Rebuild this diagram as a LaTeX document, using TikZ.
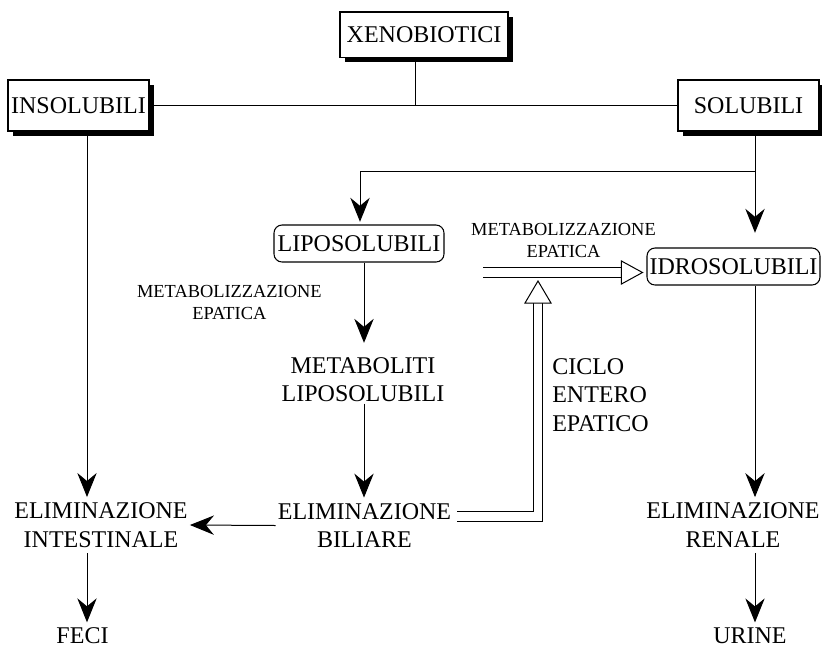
\documentclass[tikz,border=0pt]{standalone}
\usepackage{fontspec}
\setmainfont{Liberation Serif}
\usetikzlibrary{arrows.meta,shadows,calc}
\begin{document}
\begin{tikzpicture}[x=0.75pt,y=-0.75pt,
  big/.style={font=\fontsize{18}{21.5}\selectfont},
  small/.style={font=\fontsize{13.8}{16.2}\selectfont, align=center, inner sep=0pt},
  sbox/.style={draw, line width=0.8pt, fill=white, big, inner sep=0pt,
    drop shadow={shadow xshift=3.75pt, shadow yshift=-3.75pt, fill=black, opacity=1}},
  rbox/.style={draw, line width=0.8pt, rounded corners=6pt, big, inner sep=0pt, minimum height=27.75pt},
  txt/.style={big, align=center, inner xsep=1.5pt, inner ysep=4pt},
  ln/.style={line width=0.75pt},
  arr/.style={ln, -{Stealth[length=18pt,width=14.5pt,inset=6pt]}},
  dbl/.style={line width=0.75pt, double=white, double distance=6.5pt},
  hollow/.style={line width=0.75pt, fill=white, line join=miter}
]
\useasboundingbox (0,0) rectangle (822,647);
% boxes
\node[sbox, minimum width=126pt, minimum height=34.1pt] (xeno) at (424,34.7) {XENOBIOTICI};
\node[sbox, minimum width=105.75pt, minimum height=38.25pt] (insol) at (78.5,105.5) {INSOLUBILI};
\node[sbox, minimum width=105.75pt, minimum height=38.25pt] (sol) at (748.5,105.5) {SOLUBILI};
\node[rbox, minimum width=127.5pt] (lipo) at (359,243.5) {LIPOSOLUBILI};
\node[rbox, minimum width=129.75pt] (idro) at (733.5,266.5) {IDROSOLUBILI};
% text nodes
\node[txt, inner ysep=1pt] (metab) at (363,379.5) {METABOLITI\\LIPOSOLUBILI};
\node[txt] (elbil) at (364.5,525.5) {ELIMINAZIONE\\BILIARE};
\node[txt] (elint) at (101,525) {ELIMINAZIONE\\INTESTINALE};
\node[txt] (elren) at (733,525) {ELIMINAZIONE\\RENALE};
\node[txt] (feci) at (82.5,636) {FECI};
\node[txt] (urine) at (750,636) {URINE};
\node[big, align=left, anchor=west, inner sep=0pt] (ciclo) at (552,395) {CICLO\\ENTERO\\EPATICO};
\node[small] (lab1) at (229.4,302.5) {METABOLIZZAZIONE\\EPATICA};
\node[small] (lab2) at (563.5,240.3) {METABOLIZZAZIONE\\EPATICA};
% helper coordinates
\coordinate (xX) at (415,0);
\coordinate (xL) at (87,0);
\coordinate (xR) at (755,0);
\coordinate (xM1) at (360,0);
\coordinate (xM2) at (364,0);
\coordinate (branch) at (755,171);
\coordinate (vbase) at (538,303);
\coordinate (hstart) at (483,272.5);
\coordinate (htip) at ($(idro.west)+(-4,6)$);
% connectors
\draw[ln] (insol.east) -- (sol.west);
\draw[ln] (xeno.south -| xX) -- (xX |- insol.east);
\draw[arr] (insol.south -| xL) -- (elint.north -| xL);
\draw[arr] (elint.south -| xL) -- (feci.north -| xL);
\draw[arr, shorten >=11pt] (sol.south -| xR) -- (idro.north -| xR);
\draw[arr, shorten >=2pt] (branch) -| (lipo.north -| xM1);
\draw[arr, shorten >=9.5pt] (lipo.south -| xM2) -- (metab.north -| xM2);
\draw[arr] (metab.south -| xM2) -- (elbil.north -| xM2);
\draw[arr] (elbil.west) -- (elint.east);
\draw[arr] (idro.south -| xR) -- (elren.north -| xR);
\draw[arr] (elren.south -| xR) -- (urine.north -| xR);
% double hollow arrows
\draw[dbl] ($(elbil.east)+(4,-9)$) -| (vbase);
\draw[hollow] ($(vbase)+(-13,0)$) -- ($(vbase)+(0,-22)$) -- ($(vbase)+(13,0)$) -- cycle;
\draw[dbl] (hstart) -- ($(htip)+(-21,0)$);
\draw[hollow] ($(htip)+(-21,-11.5)$) -- (htip) -- ($(htip)+(-21,11.5)$) -- cycle;
\end{tikzpicture}
\end{document}
